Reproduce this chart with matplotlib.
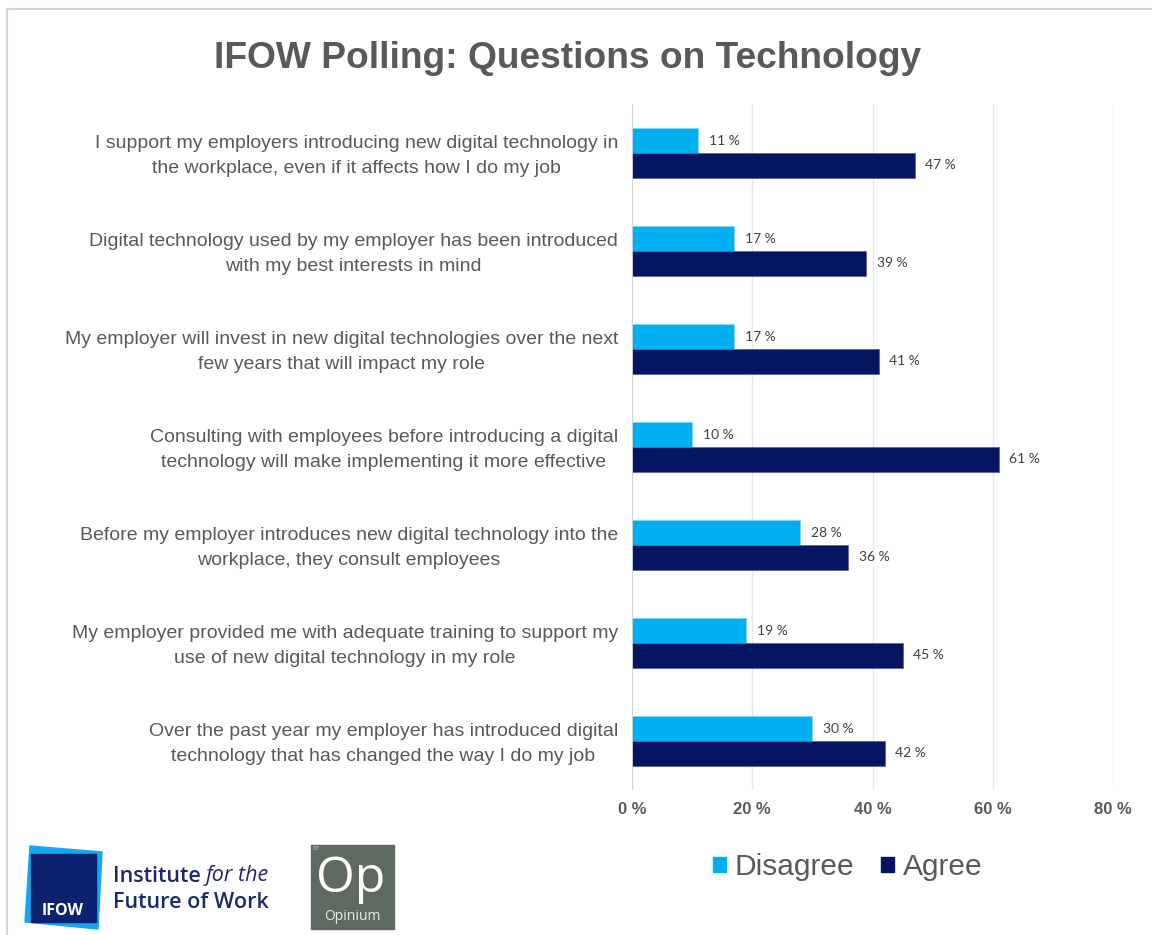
import numpy as np
import matplotlib
matplotlib.use("Agg")
import matplotlib.pyplot as plt
from matplotlib.patches import Rectangle, Polygon
from matplotlib.lines import Line2D
from matplotlib.transforms import offset_copy, blended_transform_factory

W, H = 1152, 935

questions = [
    "I support my employers introducing new digital technology in\nthe workplace, even if it affects how I do my job",
    "Digital technology used by my employer has been introduced\nwith my best interests in mind",
    "My employer will invest in new digital technologies over the next\nfew years that will impact my role",
    "Consulting with employees before introducing a digital\ntechnology will make implementing it more effective",
    "Before my employer introduces new digital technology into the\nworkplace, they consult employees",
    "My employer provided me with adequate training to support my\nuse of new digital technology in my role",
    "Over the past year my employer has introduced digital\ntechnology that has changed the way I do my job",
]
disagree = [11, 17, 17, 10, 28, 19, 30]
agree = [47, 39, 41, 61, 36, 45, 42]
x_ticks = [0, 20, 40, 60, 80]

LIGHT = "#00b0f0"
DARK = "#051561"
GREY = "#595959"
ARIAL = ["Liberation Sans", "DejaVu Sans"]
LOGO_FONT = ["Open Sans", "DejaVu Sans"]


def px(x, y):
    # pixel position (top-left origin) -> figure fraction
    return x / W, 1 - y / H


fig = plt.figure(figsize=(W / 100, H / 100), dpi=100)
fig.patch.set_facecolor("white")

# thin slide frame along the top and left edge
fig.add_artist(Line2D([px(7, 0)[0], 1], [px(0, 9)[1]] * 2, color="#d6d6d6", lw=1.5))
fig.add_artist(Line2D([px(7, 0)[0]] * 2, [0, px(0, 9)[1]], color="#d6d6d6", lw=1.5))

fig.text(*px(568, 59), "IFOW Polling: Questions on Technology", ha="center", va="center",
         fontsize=26.7, fontweight="bold", color=GREY, family=ARIAL)

left, right = px(632, 0)[0], px(1113, 0)[0]
bottom, top = px(0, 790)[1], px(0, 104)[1]
ax = fig.add_axes([left, bottom, right - left, top - bottom])

y = np.arange(len(questions))
h = 0.255
ax.barh(y - h / 2, disagree, height=h, color=LIGHT, edgecolor="#7fd6f7", linewidth=0.6, zorder=3)
ax.barh(y + h / 2, agree, height=h, color=DARK, edgecolor="#5a66a0", linewidth=0.6, zorder=3)

lbl_tf = offset_copy(ax.transData, fig=fig, x=7.5, y=0, units="points")
for i in range(len(questions)):
    ax.text(disagree[i], y[i] - h / 2, f"{disagree[i]} %", transform=lbl_tf, ha="left", va="center",
            fontsize=10, color="#404040", family=["Lato", "DejaVu Sans"])
    ax.text(agree[i], y[i] + h / 2, f"{agree[i]} %", transform=lbl_tf, ha="left", va="center",
            fontsize=10, color="#404040", family=["Lato", "DejaVu Sans"])

ax.set_xlim(0, 80)
ax.set_ylim(len(questions) - 0.5, -0.5)
ax.set_xticks(x_ticks)
ax.set_xticklabels([f"{t} %" for t in x_ticks], fontsize=12, fontweight="bold", color=GREY, family=ARIAL)
ax.set_yticks(y)
ax.set_yticklabels([])

# question text to the left of each pair of bars
q_tf = offset_copy(blended_transform_factory(ax.transAxes, ax.transData), fig=fig,
                   x=-14, y=-3, units="dots")
for i, q in enumerate(questions):
    ax.text(0, y[i], q, transform=q_tf, ha="right", va="center", multialignment="center",
            linespacing=1.6, fontsize=14, color=GREY, family=ARIAL)

ax.tick_params(axis="both", length=0)
ax.tick_params(axis="x", pad=9)
for s in ax.spines.values():
    s.set_visible(False)
ax.grid(axis="x", color="#e4e7ef", lw=1, zorder=0)
ax.axvline(0, color="#d2d2d2", lw=1.3, zorder=4)

# legend below the chart
handles = [Rectangle((0, 0), 1, 1, color=LIGHT), Rectangle((0, 0), 1, 1, color=DARK)]
fig.legend(handles, ["Disagree", "Agree"], loc="center", bbox_to_anchor=px(848, 867), ncol=2,
           frameon=False, handlelength=0.42, handleheight=0.42, handletextpad=0.3, columnspacing=0.9,
           prop={"family": ARIAL, "size": 21.5}, labelcolor=GREY)

# logos
lax = fig.add_axes([0, 0, 1, 1], zorder=5)
lax.set_xlim(0, W)
lax.set_ylim(H, 0)
lax.axis("off")
lax.add_patch(Polygon([(30, 846), (102, 852), (98, 929), (25, 922)], closed=True, color="#13a7ef"))
lax.add_patch(Rectangle((31, 854), 65, 68, color="#0b2270"))
lax.text(63, 911, "IFOW", ha="center", va="center", color="white", fontsize=11.5, fontweight="bold",
         family=LOGO_FONT)

NAVY_TXT = "#1b2a6b"
inst = lax.text(113, 876, "Institute", ha="left", va="center", color=NAVY_TXT, fontsize=15.5,
                fontweight="semibold", family=LOGO_FONT)
fig.canvas.draw()
inst_right = inst.get_window_extent().x1
for_tf = offset_copy(blended_transform_factory(fig.dpi_scale_trans, lax.transData), fig=fig,
                     x=5, y=0, units="dots")
lax.text(inst_right / fig.dpi, 876, "for the", transform=for_tf, ha="left", va="center",
         color=NAVY_TXT, fontsize=15.5, style="italic", family=LOGO_FONT)
lax.text(113, 902, "Future of Work", ha="left", va="center", color=NAVY_TXT, fontsize=15.5,
         fontweight="semibold", family=LOGO_FONT)

lax.add_patch(Rectangle((311, 845), 83, 84, color="#5e6962"))
lax.text(351, 892, "Op", ha="center", va="baseline", color="white", fontsize=36,
         family=LOGO_FONT)
lax.text(352, 917, "Opinium", ha="center", va="center", color="#e8ece8", fontsize=10,
         family=LOGO_FONT)
lax.text(313, 849, "07", ha="left", va="center", color="#d0d6d0", fontsize=4.5,
         family=LOGO_FONT)

fig.savefig("out.png", dpi=100, facecolor="white")
